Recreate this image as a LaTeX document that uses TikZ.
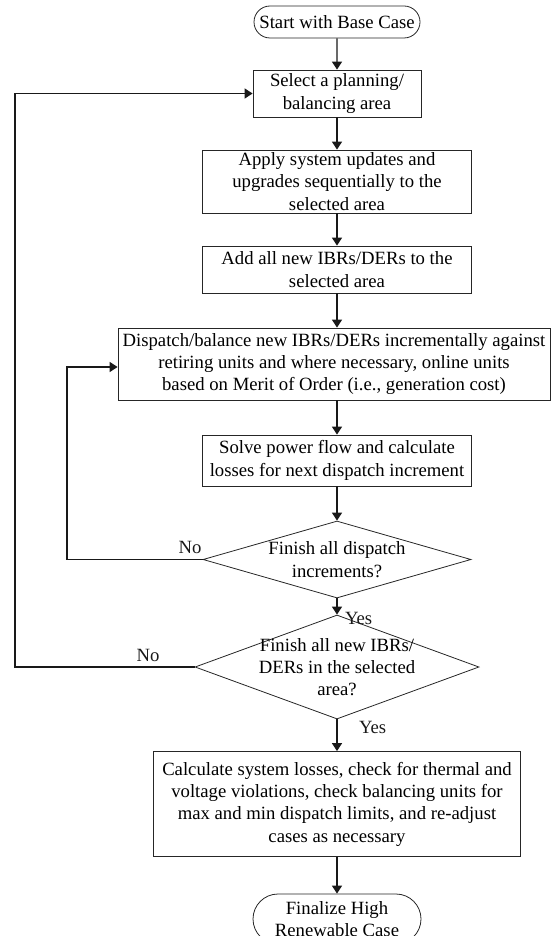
\documentclass[tikz,border=0pt]{standalone}
\usepackage{fontspec}
\setmainfont{Liberation Serif}
\usetikzlibrary{arrows.meta,shapes.geometric,shapes.misc}

\begin{document}
\begin{tikzpicture}[x=1pt,y=-1pt,
  font=\fontsize{18.7}{22.3}\selectfont,
  proc/.style={
    draw=black!85, line width=0.8pt,
    minimum width=#1,
    inner sep=1pt,
    align=center
  },
  term/.style={
    rounded rectangle, draw=black!85, line width=0.8pt,
    minimum width=#1,
    inner sep=1pt,
    align=center
  },
  dec/.style={
    diamond, draw=black!85, line width=0.8pt,
    inner sep=0pt
  },
  arr/.style={-{Triangle[length=8pt,width=10pt]}, line width=1.4pt, black!90}
]
  \useasboundingbox (0,0) rectangle (558,936);

  \node[term=168pt, minimum height=32pt] (start) at (337,22)
        {Start with Base Case};
  \node[proc=168pt, minimum height=47pt] (sel)   at (337,93.5)
        {Select a planning/\\balancing area};
  \node[proc=269pt, minimum height=63pt] (apply) at (337,181.5)
        {Apply system updates and\\upgrades sequentially to the\\selected area};
  \node[proc=269pt, minimum height=47pt] (add)   at (337,269.5)
        {Add all new IBRs/DERs to the\\selected area};
  \node[proc=432pt, minimum height=72pt] (disp)  at (334,364)
        {Dispatch/balance new IBRs/DERs incrementally against\\retiring units and where necessary, online units\\based on Merit of Order (i.e., generation cost)};
  \node[proc=269pt, minimum height=51pt] (solve) at (337,460.5)
        {Solve power flow and calculate\\losses for next dispatch increment};
  \node[dec, minimum width=268pt, minimum height=77pt] (d1) at (337,559.5) {};
  \node[align=center] (d1txt) at (d1) {Finish all dispatch\\increments?};
  \node[dec, minimum width=284pt, minimum height=104pt] (d2) at (337,667) {};
  \node[align=center] (d2txt) at (d2) {Finish all new IBRs/\\DERs in the selected\\area?};
  \node[proc=367pt, minimum height=105pt] (final) at (337,804)
        {Calculate system losses, check for thermal and\\voltage violations, check balancing units for\\max and min dispatch limits, and re-adjust\\cases as necessary};
  \node[term=170pt, minimum height=50pt] (fin) at (337,919)
        {Finalize High\\Renewable Case};

  % loop corners
  \coordinate (lp1) at (67,0);
  \coordinate (lp2) at (15,0);

  \draw[arr] (start) -- (sel);
  \draw[arr] (sel) -- (apply);
  \draw[arr] (apply) -- (add);
  \draw[arr] (add.south) -- (add.south |- disp.north);
  \draw[arr] (disp.south -| solve) -- (solve);
  \draw[arr] (solve) -- (d1);
  \draw[arr] (d1) -- (d2) node[pos=1, right, xshift=4pt, yshift=-4pt] {Yes};
  \draw[arr] (d2) -- (final) node[pos=0.25, right=18pt] {Yes};
  \draw[arr] (final) -- (fin);
  % feedback loops
  \draw[arr] (d1.west) node[above left, xshift=3pt, yshift=2pt] {No}
        -- (d1.west -| lp1) |- ([yshift=-3pt]disp.west);
  \draw[arr] (d2.west) node[above left, xshift=-31pt, yshift=1pt] {No}
        -- (d2.west -| lp2) |- (sel.west);
\end{tikzpicture}
\end{document}
